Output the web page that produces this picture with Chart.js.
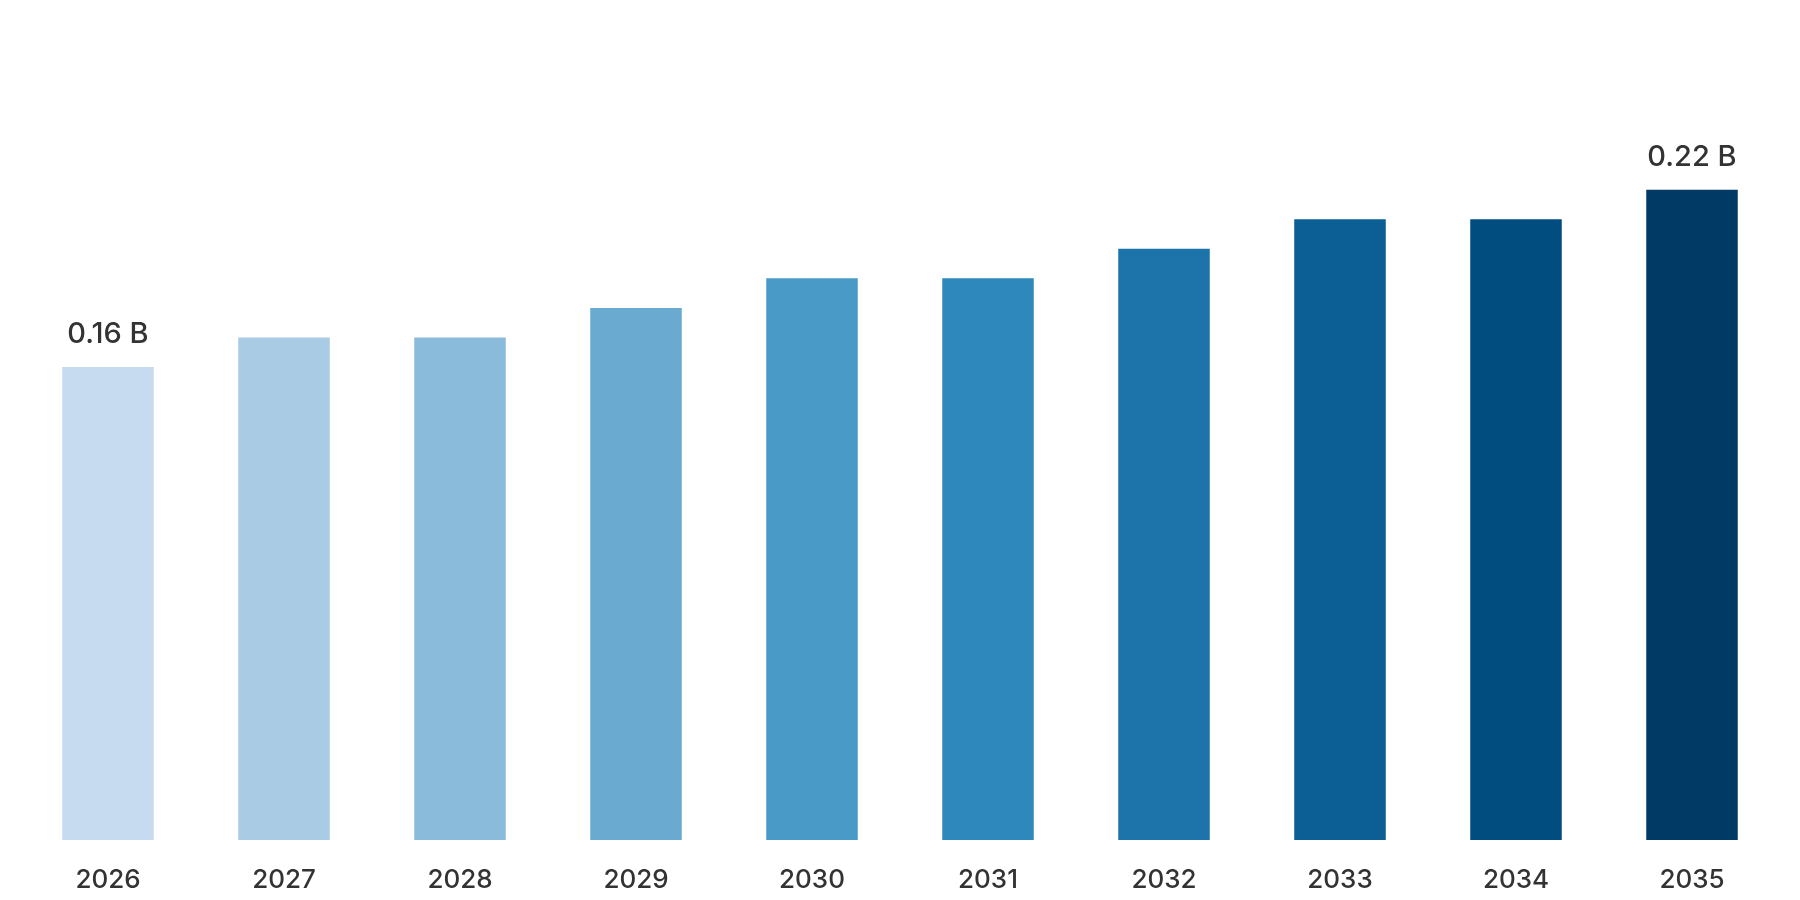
<!DOCTYPE html>
<html>
<head>
<meta charset="utf-8">
<script src="https://cdn.jsdelivr.net/npm/chart.js@4"></script>
<style>
html,body{margin:0;padding:0;background:#fff;}
#wrap{width:1800px;height:900px;position:relative;}
</style>
</head>
<body>
<div id="wrap"><canvas id="c" width="1800" height="900"></canvas></div>
<script>
const categories = ["2026","2027","2028","2029","2030","2031","2032","2033","2034","2035"];
const values = [0.16, 0.17, 0.17, 0.18, 0.19, 0.19, 0.20, 0.21, 0.21, 0.22];
const barColors = ["#c6dbef","#a9cce4","#8abbdb","#6aaad0","#4a9ac7","#2f88bc","#1c74aa","#0b5f94","#024d80","#023a66"];
const labelIndices = [0, 9];
const labelSuffix = " B";
const FONT = 'Inter, "Liberation Sans", Arial, sans-serif';

const valueLabels = {
  id: 'valueLabels',
  afterDatasetsDraw(chart) {
    const ctx = chart.ctx;
    const meta = chart.getDatasetMeta(0);
    ctx.save();
    ctx.font = '500 29px ' + FONT;
    ctx.fillStyle = '#333333';
    ctx.textAlign = 'center';
    ctx.textBaseline = 'alphabetic';
    labelIndices.forEach(i => {
      const el = meta.data[i];
      ctx.fillText(values[i].toFixed(2) + labelSuffix, el.x, el.y - 24);
    });
    ctx.restore();
  }
};

new Chart(document.getElementById('c'), {
  type: 'bar',
  data: {
    labels: categories,
    datasets: [{
      data: values,
      backgroundColor: barColors,
      borderWidth: 0,
      categoryPercentage: 1.0,
      barPercentage: 0.52
    }]
  },
  options: {
    responsive: false,
    animation: false,
    layout: { padding: { left: 20, right: 20, top: 101, bottom: 0 } },
    plugins: { legend: { display: false }, tooltip: { enabled: false } },
    scales: {
      x: {
        grid: { display: false, drawTicks: false },
        border: { display: false },
        ticks: {
          color: '#333333',
          padding: 25,
          font: { family: FONT, size: 26, weight: '500' }
        },
        afterFit(s) { s.height = 60; }
      },
      y: {
        display: false,
        min: 0,
        max: 0.25
      }
    }
  },
  plugins: [valueLabels]
});
</script>
</body>
</html>
